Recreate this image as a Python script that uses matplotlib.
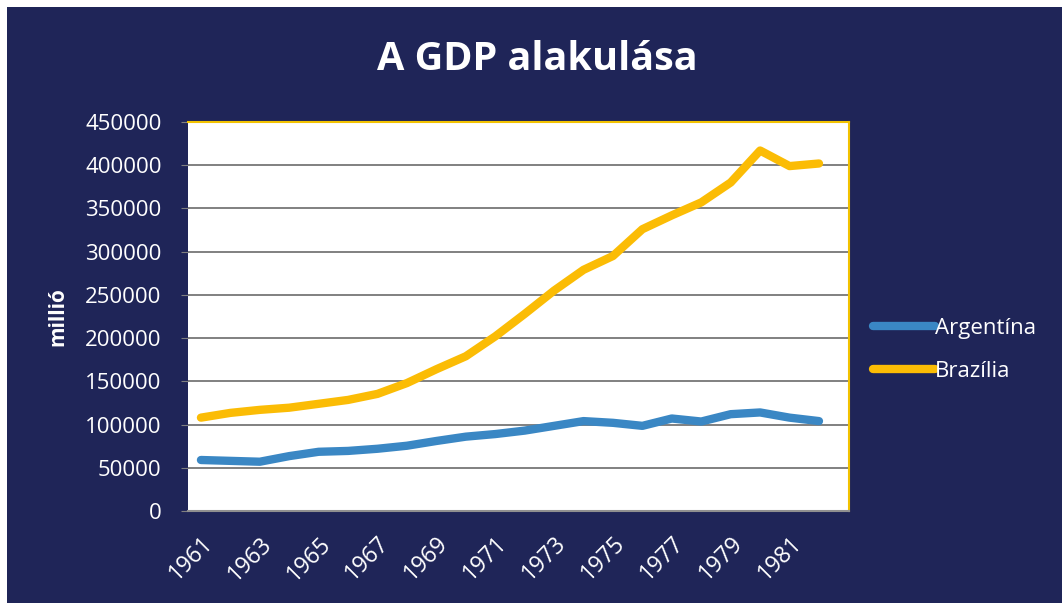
import matplotlib
matplotlib.use("Agg")
import matplotlib.pyplot as plt

years = list(range(1961, 1983))
argentina = [59000, 58000, 57000, 63500, 68500, 69500, 72000, 75500, 81000, 86000, 89000,
             93000, 98500, 104000, 102000, 98500, 107000, 103500, 112000, 114000, 108000, 104000]
brazilia = [108000, 113500, 117000, 119500, 124000, 128500, 135500, 148000, 164000, 179000, 202000,
            228000, 255000, 279000, 295000, 326000, 342000, 357000, 380000, 417000, 399000, 402000]
yticks = [0, 50000, 100000, 150000, 200000, 250000, 300000, 350000, 400000, 450000]

NAVY = "#1f2558"
FONT = "Open Sans"

fig = plt.figure(figsize=(10.62, 6.03), dpi=100, facecolor="white")
bg = fig.add_axes([7/1062, 0, 1 - 7/1062, 1 - 7/603], zorder=-5)
bg.set_facecolor(NAVY)
bg.set_xticks([]); bg.set_yticks([])
for s in bg.spines.values():
    s.set_visible(False)

ax = fig.add_axes([188/1062, (603-511)/603, (849-188)/1062, (511-122)/603], zorder=1)
ax.set_facecolor("white")

x = list(range(len(years)))
ax.plot(x, argentina, color="#3a87c4", lw=6, solid_capstyle="round", label="Argentína", zorder=3)
ax.plot(x, brazilia, color="#fbbc05", lw=6, solid_capstyle="round", label="Brazília", zorder=3)

ax.set_ylim(0, 450000)
ax.set_xlim(-0.44, 22.02)
ax.set_yticks(yticks)
ax.set_yticklabels([str(v) for v in yticks], fontsize=16, color="white", family=FONT)
ax.grid(axis="y", color="#808080", lw=1.4, zorder=1)
ax.tick_params(axis="y", length=5, color="#808080", pad=14)

ax.set_xticks(x[::2])
ax.set_xticklabels([str(y) for y in years[::2]], rotation=45, ha="right", va="top",
                   rotation_mode="anchor", fontsize=16.5, color="white", family=FONT)
ax.tick_params(axis="x", length=0, pad=15)

for s in ["top", "right"]:
    ax.spines[s].set_color("#f2c200")
    ax.spines[s].set_linewidth(1.5)
ax.spines["bottom"].set_color("#909090")
ax.spines["bottom"].set_linewidth(1.5)
ax.spines["left"].set_visible(False)

ax.set_ylabel("millió", fontsize=15, color="white", fontweight="bold", family=FONT, labelpad=12)

fig.text(537/1062, 1 - 60/603, "A GDP alakulása", ha="center", va="center",
         fontsize=28.5, fontweight="bold", color="white", family=FONT)

leg = fig.legend(loc="upper left", bbox_to_anchor=(853/1062, 1 - 298/603), frameon=False,
                 prop={"family": FONT, "size": 16}, labelcolor="white",
                 handlelength=2.8, handletextpad=0.0, labelspacing=1.0)

fig.savefig("out.png", dpi=100, facecolor="white")
